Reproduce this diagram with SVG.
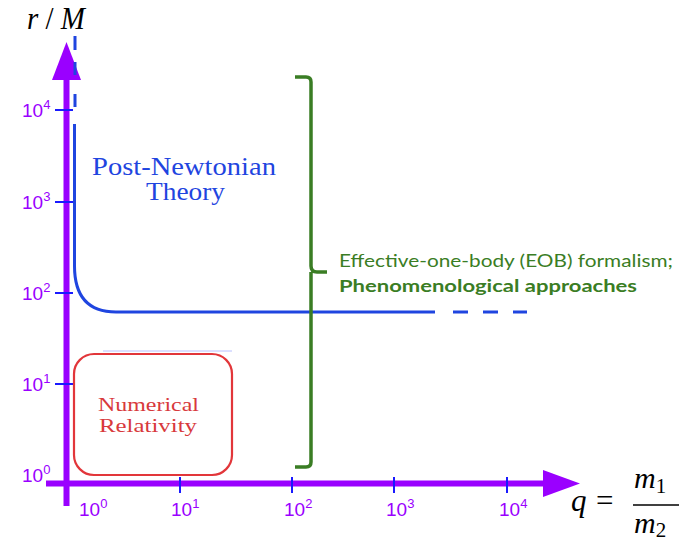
<svg xmlns="http://www.w3.org/2000/svg" width="679" height="545" viewBox="0 0 679 545">
<style>
.axis{stroke:#9a00ff;stroke-width:6;fill:none}
.ah{fill:#9a00ff}
.tick{stroke:#1a1aff;stroke-width:2}
.tl{font-family:"Liberation Sans",Arial,sans-serif;font-size:19px;fill:#9a00ff}
.sup{font-size:13px}
.pn{stroke:#1f45e0;stroke-width:3;fill:none}
.math{font-family:"Liberation Serif","Times New Roman",serif;fill:#000}
.eob{font-family:Lato,"Open Sans",sans-serif;font-size:17px;fill:#3a7d24}
</style>
<rect width="679" height="545" fill="#fff"/>
<g id="axes">
<line class="axis" x1="66.5" y1="78" x2="66.5" y2="506"/>
<polygon class="ah" points="66.5,42 52,80 81,80"/>
<line class="axis" x1="46" y1="483.5" x2="545" y2="483.5"/>
<polygon class="ah" points="580,483.5 543,470 543,497"/>
</g>
<g id="y-ticks">
<line class="tick" x1="55" y1="110" x2="73" y2="110"/>
<line class="tick" x1="55" y1="202" x2="73" y2="202"/>
<line class="tick" x1="55" y1="293" x2="73" y2="293"/>
<line class="tick" x1="55" y1="384" x2="73" y2="384"/>
<text class="tl" x="22" y="117">10<tspan class="sup" dy="-8">4</tspan></text>
<text class="tl" x="22" y="209">10<tspan class="sup" dy="-8">3</tspan></text>
<text class="tl" x="22" y="300">10<tspan class="sup" dy="-8">2</tspan></text>
<text class="tl" x="22" y="391">10<tspan class="sup" dy="-8">1</tspan></text>
<text class="tl" x="22" y="482">10<tspan class="sup" dy="-8">0</tspan></text>
</g>
<g id="x-ticks">
<line class="tick" x1="180" y1="477" x2="180" y2="493"/>
<line class="tick" x1="292" y1="477" x2="292" y2="493"/>
<line class="tick" x1="394" y1="477" x2="394" y2="493"/>
<line class="tick" x1="507" y1="477" x2="507" y2="493"/>
<text class="tl" x="79" y="516">10<tspan class="sup" dy="-8">0</tspan></text>
<text class="tl" x="171" y="516">10<tspan class="sup" dy="-8">1</tspan></text>
<text class="tl" x="284" y="516">10<tspan class="sup" dy="-8">2</tspan></text>
<text class="tl" x="386" y="516">10<tspan class="sup" dy="-8">3</tspan></text>
<text class="tl" x="499" y="516">10<tspan class="sup" dy="-8">4</tspan></text>
</g>
<g id="axis-labels">
<text class="math" x="27" y="29" font-size="32" textLength="58" lengthAdjust="spacingAndGlyphs"><tspan font-style="italic">r</tspan> / <tspan font-style="italic">M</tspan></text>
<text class="math" x="571" y="511" font-size="31" font-style="italic">q</text>
<text class="math" x="596" y="511" font-size="31">=</text>
<line x1="633" y1="505" x2="679" y2="505" stroke="#000" stroke-width="1.5"/>
<text class="math" x="634" y="488" font-size="30" font-style="italic">m<tspan font-style="normal" font-size="21" dy="5">1</tspan></text>
<text class="math" x="634" y="533" font-size="30" font-style="italic">m<tspan font-style="normal" font-size="21" dy="4">2</tspan></text>
</g>
<g id="post-newtonian">
<path class="pn" d="M75 36V50M75 62V75M75 94V107"/>
<path class="pn" d="M74.5 124V266Q74.5 312 116 312H435"/>
<path class="pn" d="M453 312H468M483 312H498M513 312H527"/>
<text class="math" x="184" y="175" font-size="25" style="fill:#1f45e0" text-anchor="middle" textLength="184" lengthAdjust="spacingAndGlyphs">Post-Newtonian</text>
<text class="math" x="185.5" y="200" font-size="25" style="fill:#1f45e0" text-anchor="middle" textLength="79" lengthAdjust="spacingAndGlyphs">Theory</text>
</g>
<g id="numerical-relativity">
<line x1="103" y1="351" x2="232" y2="351" stroke="#b8c0ff" stroke-width="1"/>
<rect x="74" y="354" width="158" height="121" rx="20" fill="#fff" stroke="#e2363a" stroke-width="2.2"/>
<text class="math" x="148.5" y="411" font-size="19" style="fill:#d8393c" text-anchor="middle" textLength="101" lengthAdjust="spacingAndGlyphs">Numerical</text>
<text class="math" x="148" y="432" font-size="19" style="fill:#d8393c" text-anchor="middle" textLength="98" lengthAdjust="spacingAndGlyphs">Relativity</text>
</g>
<g id="eob">
<path d="M295 77H306Q311 77 311 82V266Q311 272 317 272H327M311 272Q311 278 311 282V462Q311 467 306 467H295" fill="none" stroke="#3a7d24" stroke-width="3.5"/>
<text class="eob" x="339" y="267" textLength="334" lengthAdjust="spacingAndGlyphs">Effective-one-body (EOB) formalism;</text>
<text class="eob" x="339" y="292" font-weight="bold" textLength="298" lengthAdjust="spacingAndGlyphs">Phenomenological approaches</text>
</g>
</svg>
